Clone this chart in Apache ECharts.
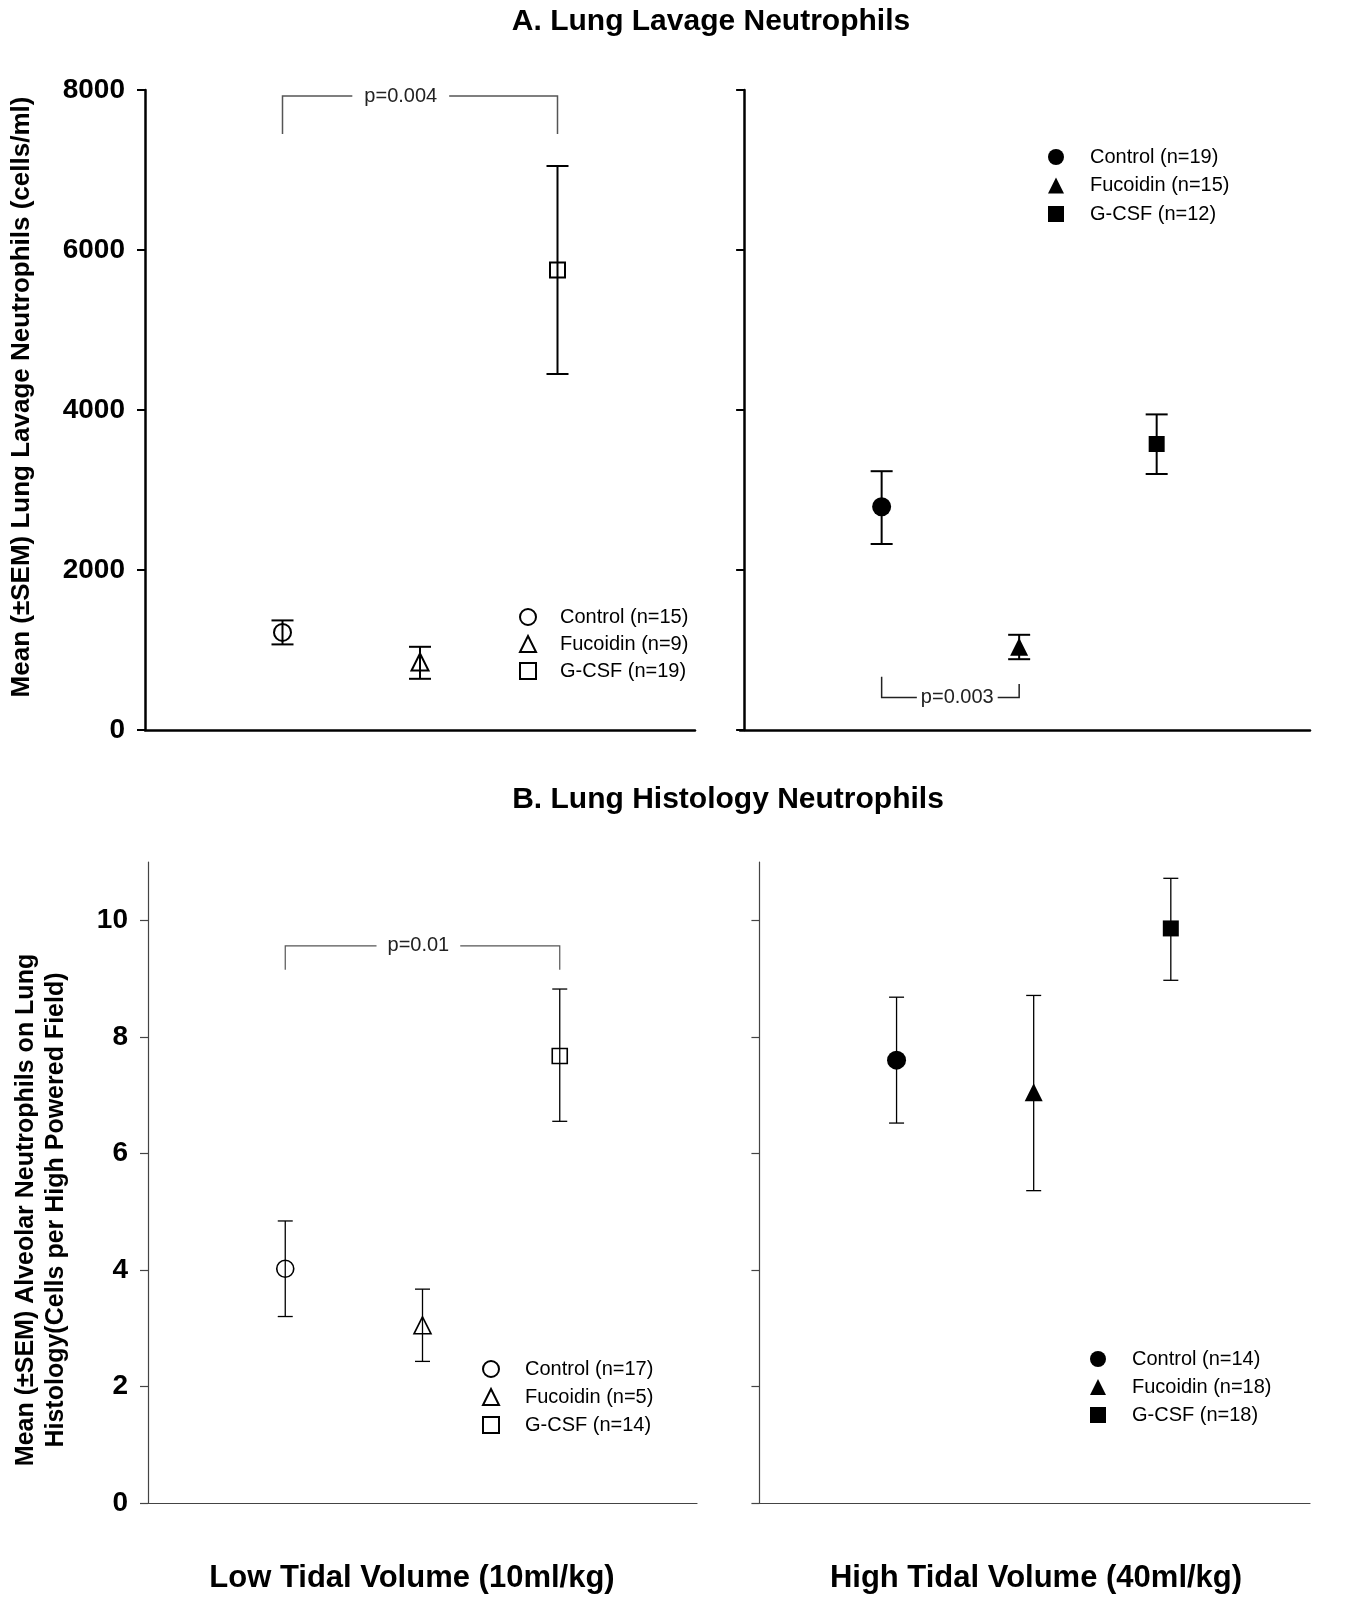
<!DOCTYPE html>
<html>
<head>
<meta charset="utf-8">
<script src="https://cdn.jsdelivr.net/npm/echarts@6/dist/echarts.min.js"></script>
<style>
html,body{margin:0;padding:0;background:#fff;}
#chart{width:1346px;height:1607px;}
</style>
</head>
<body>
<div id="chart"></div>
<script>
// ---------- data ----------
const groups = ['Control', 'Fucoidin', 'G-CSF'];
const groupX = [1, 2, 3];

const lavageLowMean = [1220, 850, 5750];
const lavageLowLow  = [1070, 640, 4450];
const lavageLowHigh = [1370, 1040, 7050];
const lavageLowN    = [15, 9, 19];

const lavageHighMean = [2790, 1040, 3575];
const lavageHighLow  = [2325, 885, 3200];
const lavageHighHigh = [3235, 1190, 3945];
const lavageHighN    = [19, 15, 12];

const histoLowMean = [4.02, 3.05, 7.67];
const histoLowLow  = [3.20, 2.43, 6.55];
const histoLowHigh = [4.84, 3.67, 8.82];
const histoLowN    = [17, 5, 14];

const histoHighMean = [7.60, 7.05, 9.86];
const histoHighLow  = [6.52, 5.36, 8.97];
const histoHighHigh = [8.68, 8.71, 10.72];
const histoHighN    = [14, 18, 18];

const lavageTicks = [0, 2000, 4000, 6000, 8000];
const histoTicks = [0, 2, 4, 6, 8, 10];

// significance brackets: [fromX, toX, level, leftEnd, rightEnd, labelX]
const bracketLavageLow  = [1, 3, 7925, 7450, 7450, 1.86];
const bracketLavageHigh = [1, 2, 405, 665, 575, 1.55];
const bracketHistoLow   = [1, 3, 9.56, 9.15, 9.15, 1.97];
const bracketLabels = ['p=0.004', 'p=0.003', 'p=0.01'];

// ---------- helpers ----------
const FONT = 'Liberation Sans, Arial, sans-serif';
const openSymbols = ['circle', 'triangle', 'rect'];

function names(ns) { return groups.map((g, i) => g + ' (n=' + ns[i] + ')'); }

function pointSeries(gi, mean, ns, filled, sizes, bw) {
  const nm = names(ns);
  return mean.map((m, i) => ({
    type: 'scatter', name: nm[i], xAxisIndex: gi, yAxisIndex: gi, z: 3,
    symbol: openSymbols[i], symbolSize: sizes[i],
    data: [[groupX[i], m]],
    itemStyle: filled ? { color: '#000', borderColor: '#000', borderWidth: 0, opacity: 1 }
                      : { color: 'rgba(255,255,255,0)', borderColor: '#000', borderWidth: bw, opacity: 1 },
    emphasis: { disabled: true }, silent: true
  }));
}

function errSeries(gi, low, high, capW, lw) {
  return {
    type: 'custom', xAxisIndex: gi, yAxisIndex: gi, silent: true, z: 2,
    data: low.map((l, i) => [groupX[i], l, high[i]]),
    renderItem: function (params, api) {
      const x = api.value(0);
      const p1 = api.coord([x, api.value(1)]);
      const p2 = api.coord([x, api.value(2)]);
      const st = { stroke: '#000', lineWidth: lw };
      return { type: 'group', children: [
        { type: 'line', shape: { x1: p1[0], y1: p1[1], x2: p2[0], y2: p2[1] }, style: st },
        { type: 'line', shape: { x1: p1[0] - capW / 2, y1: p1[1], x2: p1[0] + capW / 2, y2: p1[1] }, style: st },
        { type: 'line', shape: { x1: p2[0] - capW / 2, y1: p2[1], x2: p2[0] + capW / 2, y2: p2[1] }, style: st }
      ]};
    }
  };
}

function bracketSeries(gi, br, label, color, lw, pad) {
  return {
    type: 'custom', xAxisIndex: gi, yAxisIndex: gi, silent: true, z: 2,
    data: [br],
    renderItem: function (params, api) {
      const a = api.coord([api.value(0), api.value(3)]);
      const b = api.coord([api.value(0), api.value(2)]);
      const c = api.coord([api.value(1), api.value(2)]);
      const d = api.coord([api.value(1), api.value(4)]);
      const t = api.coord([api.value(5), api.value(2)]);
      return { type: 'group', children: [
        { type: 'polyline', shape: { points: [a, b, c, d] }, style: { stroke: color, lineWidth: lw, fill: null } },
        { type: 'text', x: t[0], y: t[1], z2: 10,
          style: { text: label, fill: '#222', font: '20px ' + FONT, align: 'center', verticalAlign: 'middle',
                   backgroundColor: '#fff', padding: [2, pad] } }
      ]};
    }
  };
}

function legend(ns, left, top, gap, pad) {
  return {
    orient: 'vertical', left: left, top: top, padding: 0, itemGap: gap,
    itemWidth: 16, itemHeight: 16, selectedMode: false,
    data: names(ns),
    textStyle: { fontSize: 20, fontFamily: FONT, color: '#000', lineHeight: 16, padding: [0, 0, 0, pad] }
  };
}

function xAxis(gi, min, max, color, w) {
  return { type: 'value', gridIndex: gi, min: min, max: max,
    axisLabel: { show: false }, axisTick: { show: false }, splitLine: { show: false },
    axisLine: { show: true, onZero: false, lineStyle: { color: color, width: w } } };
}

const plainNum = function (v) { return String(v); };

const chart = echarts.init(document.getElementById('chart'), null, { renderer: 'canvas' });

const option = {
  backgroundColor: '#fff',
  animation: false,
  grid: [
    { left: 145, top: 90, width: 550, height: 640 },
    { left: 740, top: 90, width: 570, height: 640 },
    { left: 148, top: 862, width: 549, height: 641 },
    { left: 756, top: 862, width: 554, height: 641 }
  ],
  xAxis: [
    xAxis(0, 0, 4, '#000', 2.5),
    xAxis(1, -0.03, 4.115, '#000', 2.5),
    xAxis(2, 0, 4, '#444', 1.2),
    xAxis(3, -0.025, 4.015, '#444', 1.2)
  ],
  yAxis: [
    { type: 'value', gridIndex: 0, min: 0, max: 8000, interval: 2000, splitLine: { show: false },
      axisLine: { show: true, lineStyle: { color: '#000', width: 2.5 } },
      axisTick: { show: true, length: 8, lineStyle: { color: '#000', width: 2 } },
      axisLabel: { fontSize: 28, fontWeight: 'bold', fontFamily: FONT, color: '#000', margin: 20, formatter: plainNum } },
    { type: 'value', gridIndex: 1, min: 0, max: 8000, interval: 2000, splitLine: { show: false },
      axisLine: { show: true, lineStyle: { color: '#000', width: 2.5 } },
      axisTick: { show: true, length: 8, lineStyle: { color: '#000', width: 2 } },
      axisLabel: { show: false } },
    { type: 'value', gridIndex: 2, min: 0, max: 11, interval: 2, splitLine: { show: false },
      axisLine: { show: true, lineStyle: { color: '#444', width: 1.2 } },
      axisTick: { show: true, length: 8, customValues: histoTicks, lineStyle: { color: '#444', width: 1.2 } },
      axisLabel: { fontSize: 28, fontWeight: 'bold', fontFamily: FONT, color: '#000', margin: 20, customValues: histoTicks, formatter: plainNum } },
    { type: 'value', gridIndex: 3, min: 0, max: 11, interval: 2, splitLine: { show: false },
      axisLine: { show: true, lineStyle: { color: '#444', width: 1.2 } },
      axisTick: { show: true, length: 8, customValues: histoTicks, lineStyle: { color: '#444', width: 1.2 } },
      axisLabel: { show: false, customValues: histoTicks } }
  ],
  legend: [
    legend(lavageLowN, 519, 607, 7, 19),
    legend(lavageHighN, 1048, 147, 8.5, 21),
    legend(histoLowN, 482, 1359, 8, 21),
    legend(histoHighN, 1090, 1349, 8, 21)
  ],
  graphic: [
    { type: 'text', x: 711, y: 22, style: { text: 'A. Lung Lavage Neutrophils', font: 'bold 30px ' + FONT, fill: '#000', align: 'center', verticalAlign: 'middle' } },
    { type: 'text', x: 728, y: 800, style: { text: 'B. Lung Histology Neutrophils', font: 'bold 30px ' + FONT, fill: '#000', align: 'center', verticalAlign: 'middle' } },
    { type: 'text', x: 412, y: 1578, style: { text: 'Low Tidal Volume (10ml/kg)', font: 'bold 31px ' + FONT, fill: '#000', align: 'center', verticalAlign: 'middle' } },
    { type: 'text', x: 1036, y: 1578, style: { text: 'High Tidal Volume (40ml/kg)', font: 'bold 31px ' + FONT, fill: '#000', align: 'center', verticalAlign: 'middle' } },
    { type: 'text', x: 22, y: 397, rotation: Math.PI / 2,
      style: { text: 'Mean (±SEM) Lung Lavage Neutrophils (cells/ml)', font: 'bold 26px ' + FONT, fill: '#000', align: 'center', verticalAlign: 'middle' } },
    { type: 'text', x: 41, y: 1210, rotation: Math.PI / 2,
      style: { text: 'Mean (±SEM) Alveolar Neutrophils on Lung\nHistology(Cells per High Powered Field)', font: 'bold 25px ' + FONT, lineHeight: 30, fill: '#000', align: 'center', verticalAlign: 'middle' } }
  ],
  series: [].concat(
    errSeries(0, lavageLowLow, lavageLowHigh, 22, 2),
    pointSeries(0, lavageLowMean, lavageLowN, false, [17, 17, 15], 2),
    bracketSeries(0, bracketLavageLow, bracketLabels[0], '#555', 1.5, 12),

    errSeries(1, lavageHighLow, lavageHighHigh, 22, 2),
    pointSeries(1, lavageHighMean, lavageHighN, true, [19, 18, 16], 0),
    bracketSeries(1, bracketLavageHigh, bracketLabels[1], '#222', 1.5, 4),

    errSeries(2, histoLowLow, histoLowHigh, 15, 1.3),
    pointSeries(2, histoLowMean, histoLowN, false, [17, 17, 15], 1.6),
    bracketSeries(2, bracketHistoLow, bracketLabels[2], '#555', 1.2, 11),

    errSeries(3, histoHighLow, histoHighHigh, 15, 1.3),
    pointSeries(3, histoHighMean, histoHighN, true, [19, 18, 16], 0)
  )
};
chart.setOption(option);
</script>
</body>
</html>
